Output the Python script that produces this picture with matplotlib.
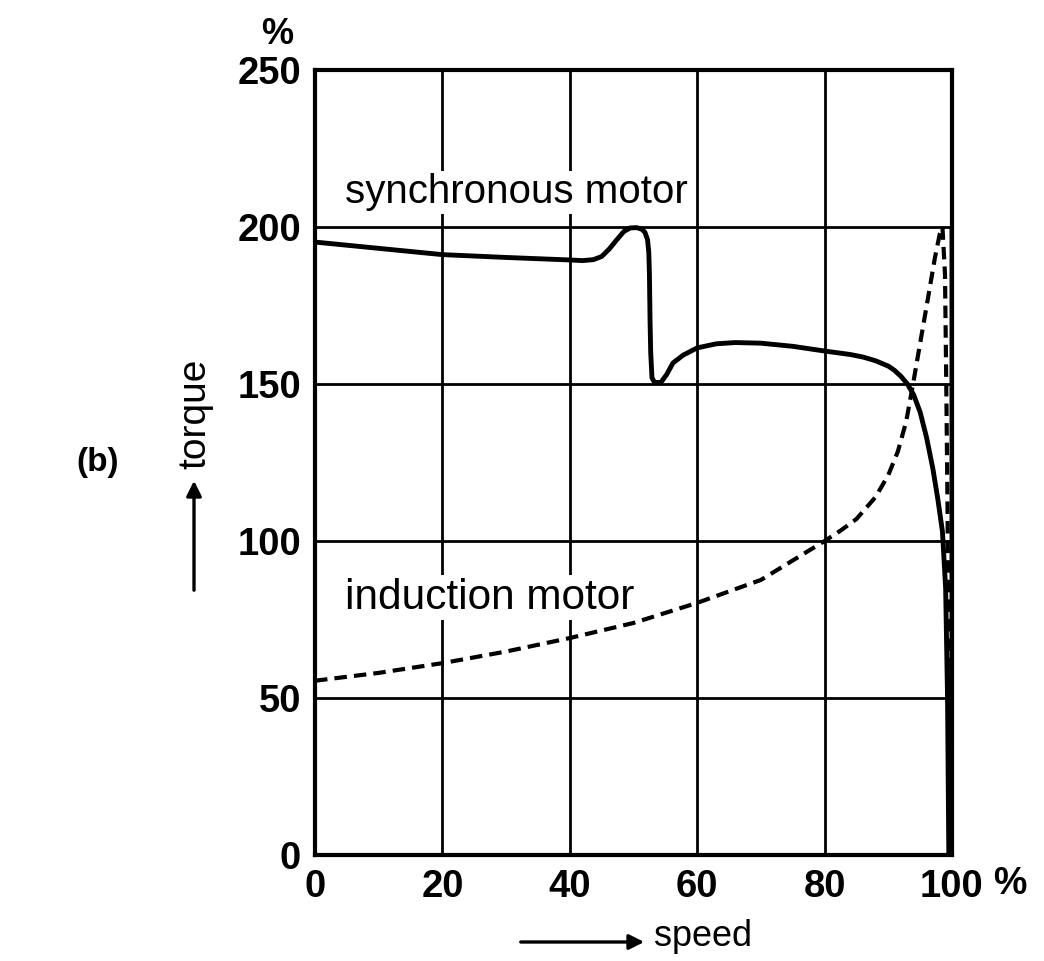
import matplotlib
matplotlib.use("Agg")
import matplotlib.pyplot as plt

# Data (speed in %, torque in %)
sync_speed = [0, 10, 20, 30, 40, 42, 43.7, 45.0, 46.2, 47.4, 48.5, 49.5, 50.5, 51.3, 51.8, 52.2,
              52.4, 52.5, 52.6, 52.7, 52.9, 53.3, 54.3, 55.2, 56.2, 57.8, 60, 63, 66, 70, 75,
              80, 84, 86, 88, 90, 91, 92, 93, 94, 95, 96, 97, 97.8, 98.5, 99.0, 99.3, 99.5,
              100, 100]
sync_torque = [195.2, 193.2, 191.2, 190.3, 189.5, 189.3, 189.6, 190.6, 193, 196, 198.6, 199.7,
               199.8, 199.3, 198.3, 196, 192, 185, 170, 160, 152, 150.5, 150.5, 153, 156.7,
               159.2, 161.5, 162.8, 163.2, 163, 162, 160.5, 159.4, 158.6, 157.4, 155.7, 154.3,
               152.4, 150, 146.5, 141, 133, 123, 113, 103, 85, 50, 0, 0, 200]

ind_speed = [0, 10, 20, 30, 40, 50, 60, 70, 80, 82.5, 85, 88, 90, 91.5, 92.8, 93.8, 95.0, 96.2,
             97.3, 98.1, 98.5, 98.9, 99.1, 99.3, 99.5, 99.7]
ind_torque = [55.5, 58, 61.1, 64.8, 69.1, 73.9, 80.3, 87.6, 100, 103.3, 107, 114, 121, 128.5,
              138, 149, 163, 177, 190, 198, 200, 185, 150, 110, 50, 0]

x_ticks = [0, 20, 40, 60, 80, 100]
y_ticks = [0, 50, 100, 150, 200, 250]

W, H = 1044, 961
fig = plt.figure(figsize=(W / 100, H / 100), dpi=100)
ax = fig.add_axes([315 / W, 1 - 855 / H, (952 - 315) / W, (855 - 70) / H])

ax.set_xlim(0, 100)
ax.set_ylim(0, 250)
ax.set_xticks(x_ticks)
ax.set_yticks(y_ticks)
ax.set_xticklabels([str(v) for v in x_ticks])
ax.set_yticklabels([str(v) for v in y_ticks])
ax.tick_params(length=0, labelsize=27.5, pad=10)
for lab in ax.get_xticklabels() + ax.get_yticklabels():
    lab.set_fontweight("bold")
    lab.set_fontfamily("Liberation Sans")
ax.grid(True, color="black", linewidth=2)
ax.set_axisbelow(True)
for sp in ax.spines.values():
    sp.set_linewidth(3)

ax.plot(sync_speed, sync_torque, color="black", linewidth=3.5, solid_joinstyle="round",
        solid_capstyle="round", zorder=4)
ax.plot(ind_speed, ind_torque, color="black", linewidth=3.0, linestyle=(0, (3.0, 1.7)), zorder=4)

bbox = dict(facecolor="white", edgecolor="none", pad=2)
ax.text(4.7, 211, "synchronous motor", fontsize=29, fontfamily="Liberation Sans",
        va="center", ha="left", zorder=3, bbox=bbox)
ax.text(4.7, 82, "induction motor", fontsize=30.5, fontfamily="Liberation Sans",
        va="center", ha="left", zorder=3, bbox=bbox)

# Units and axis labels
fig.text(277 / W, 1 - 35 / H, "%", fontsize=26, fontweight="bold", fontfamily="Liberation Sans",
         ha="center", va="center")
fig.text(1010 / W, 1 - 884 / H, "%", fontsize=27, fontweight="bold", fontfamily="Liberation Sans",
         ha="center", va="center")
fig.text(98 / W, 1 - 462 / H, "(b)", fontsize=24, fontweight="bold", fontfamily="Liberation Sans",
         ha="center", va="center")

fig.text(195 / W, 1 - 414 / H, "torque", fontsize=28, fontfamily="Liberation Sans",
         rotation=90, ha="center", va="center")
fig.add_artist(matplotlib.patches.FancyArrowPatch((194 / W, 1 - 593 / H), (194 / W, 1 - 478 / H),
               transform=fig.transFigure, arrowstyle="-|>,head_length=9,head_width=4.5",
               color="black", linewidth=2.4))

fig.text(703 / W, 1 - 937 / H, "speed", fontsize=26, fontfamily="Liberation Sans",
         ha="center", va="center")
fig.add_artist(matplotlib.patches.FancyArrowPatch((518 / W, 1 - 942 / H), (647 / W, 1 - 942 / H),
               transform=fig.transFigure, arrowstyle="-|>,head_length=9,head_width=4.5",
               color="black", linewidth=2.4))

fig.savefig("out.png", dpi=100, facecolor="white")
